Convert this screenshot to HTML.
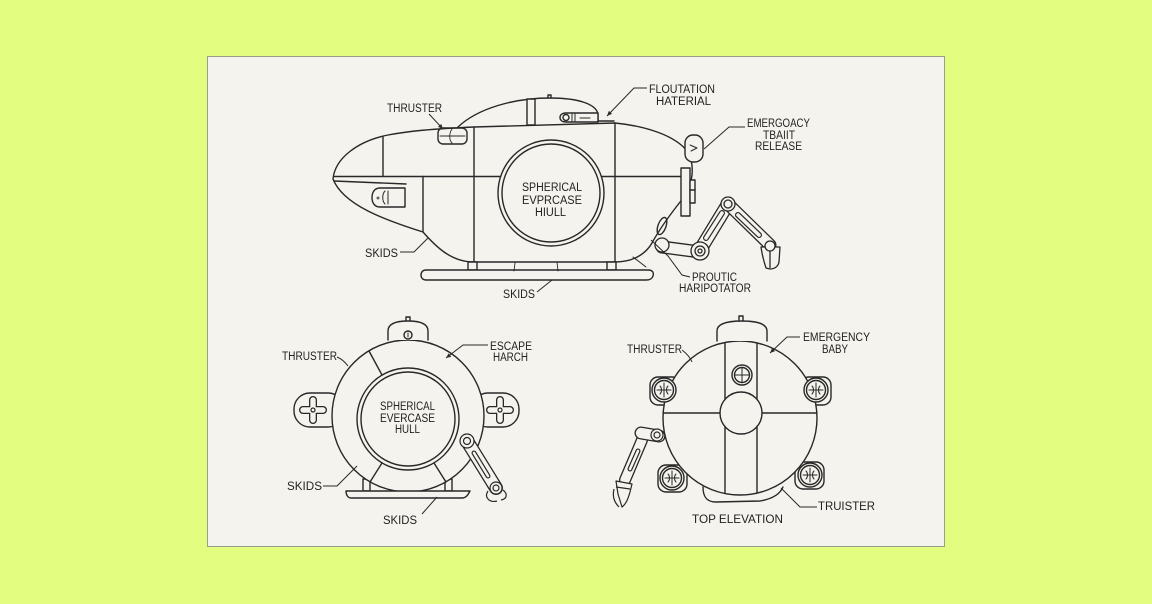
<!DOCTYPE html>
<html><head><meta charset="utf-8">
<style>
html,body{margin:0;padding:0;background:#e2fd80;}
svg{display:block}
text{font-family:"Liberation Sans",sans-serif;font-size:11.5px;fill:#222;}
</style></head><body>
<svg width="1152" height="604" viewBox="0 0 1152 604" xmlns="http://www.w3.org/2000/svg">
<defs>
<marker id="a" markerWidth="6" markerHeight="6" refX="5" refY="3" orient="auto" markerUnits="userSpaceOnUse"><path d="M0,0.8 L5,3 L0,5.2 Z" fill="#2c2c2c"/></marker>
</defs>
<rect width="1152" height="604" fill="#e2fd80"/>
<rect x="207.5" y="56.5" width="737" height="490" fill="#f4f3ee" stroke="#9c9c8c"/>

<!-- ============ SIDE VIEW ============ -->
<g fill="none" stroke="#282828" stroke-width="1.4" stroke-linejoin="round" stroke-linecap="round">
  <path d="M458,127 C478,108 515,98 550,98 C578,98 596,104 598,114 L598,122" fill="#f4f3ee"/>
  <rect x="527" y="99" width="8" height="26" fill="#f4f3ee"/>
  <path d="M548,98 L548,95 L551,95 L551,98"/>
  <path d="M333,179 C335,158 358,141 388,135 C410,131 430,129 474,127 L615,123 C645,126 675,135 688,152 C695,165 693,185 684,197 C672,212 660,228 652,243 C645,255 632,262 615,262 L474,262 C452,262 437,248 423,232 C385,220 343,205 333,179 Z" fill="#f4f3ee"/>
  <path d="M383,137 L383,176"/>
  <path d="M334,176.5 L681,176.5"/>
  <path d="M334,181 L406,184"/>
  <path d="M423,176.5 L423,232"/>
  <path d="M474,127 L474,262"/>
  <path d="M615,123 L615,262"/>
  <path d="M380,188 L405,188 L405,207 L380,207 C374,207 372,202 372,197.5 C372,193 374,188 380,188 Z"/>
  <path d="M385,191 C382,194 382,201 385,204" stroke-width="1"/>
  <path d="M388,191 L388,204" stroke-width="1"/>
  <circle cx="378" cy="198" r="1" stroke-width="0.8"/>
  <rect x="438" y="128" width="29" height="16" rx="5"/>
  <path d="M440,136 L465,136" stroke-width="0.9"/>
  <path d="M452,129 C449,133 449,140 452,143" stroke-width="0.9"/>
  <path d="M566,113 L598,113 L598,122 L566,122 C562,122 560,120 560,117.5 C560,115 562,113 566,113 Z" fill="#f4f3ee"/>
  <circle cx="566" cy="117.5" r="3"/>
  <path d="M572,114 L572,121 M575,114 L575,121 M580,118 L590,118" stroke-width="1"/>
  <path d="M598,121 L614,121"/>
  <rect x="685" y="135" width="18" height="27" rx="8" fill="#f4f3ee"/>
  <path d="M690,145 L697,148 L691,151" stroke-width="1"/>
  <rect x="681" y="168" width="9" height="48" fill="#f4f3ee"/>
  <rect x="690" y="180" width="5" height="23" fill="#f4f3ee"/>
  <path d="M690,190 L695,190"/>
  <ellipse cx="662" cy="226" rx="4" ry="9" transform="rotate(20 662 226)"/>
  <rect x="468" y="262" width="9" height="8" fill="#f4f3ee"/>
  <rect x="607" y="262" width="9" height="8" fill="#f4f3ee"/>
  <path d="M426,270 L648,270 C653,270 654,273 653,276 C652,279 650,280 646,280 L426,280 C423,280 421,278 421,275 C421,272 423,270 426,270 Z" fill="#f4f3ee"/>
  <path d="M515,263 L514,271 M557,262 L558,271" stroke-width="0.9"/>
  <path d="M633,257 L646,267" stroke-width="1"/>
</g>
<g stroke-linecap="round" fill="none">
  <path d="M662,247 L700,252" stroke="#282828" stroke-width="13"/>
  <path d="M662,247 L700,252" stroke="#f4f3ee" stroke-width="10.4"/>
  <path d="M700,250 L728,204" stroke="#282828" stroke-width="14"/>
  <path d="M700,250 L728,204" stroke="#f4f3ee" stroke-width="11.4"/>
  <path d="M706,238 L722,213" stroke="#282828" stroke-width="6"/>
  <path d="M706,238 L722,213" stroke="#f4f3ee" stroke-width="3.6"/>
  <path d="M728,204 L770,245" stroke="#282828" stroke-width="13"/>
  <path d="M728,204 L770,245" stroke="#f4f3ee" stroke-width="10.4"/>
  <path d="M738,215 L759,235" stroke="#282828" stroke-width="6"/>
  <path d="M738,215 L759,235" stroke="#f4f3ee" stroke-width="3.6"/>
</g>
<g fill="#f4f3ee" stroke="#282828" stroke-width="1.3" stroke-linejoin="round">
  <circle cx="662" cy="245" r="7"/>
  <circle cx="700" cy="251" r="9"/>
  <circle cx="700" cy="251" r="5"/>
  <circle cx="700" cy="251" r="2"/>
  <circle cx="728" cy="204" r="7"/>
  <circle cx="728" cy="204" r="4"/>
  <path d="M761,247 L780,247 L779,262 C778,267 774,269 770,269 L766,268 C764,262 762,254 761,247 Z"/>
  <path d="M770,250 L770,268" fill="none"/>
  <circle cx="770" cy="246" r="5"/>
</g>
<g fill="none" stroke="#282828" stroke-width="1">
  <path d="M429,114 L443,129" marker-end="url(#a)"/>
  <path d="M647,88 L634,88 L607,116" marker-end="url(#a)"/>
  <path d="M745,127 L729,127 L704,149"/>
  <path d="M400,252 L414,252 L428,238"/>
  <path d="M537,292 L552,280"/>
  <path d="M651,240 L668,256 L682,275 L690,277"/>
</g>
<text x="387" y="112" textLength="55" lengthAdjust="spacingAndGlyphs">THRUSTER</text>
<text x="649" y="93" textLength="66" lengthAdjust="spacingAndGlyphs">FLOUTATION</text>
<text x="656" y="105" textLength="55" lengthAdjust="spacingAndGlyphs">HATERIAL</text>
<text x="747" y="127" textLength="63" lengthAdjust="spacingAndGlyphs">EMERGOACY</text>
<text x="763" y="139" textLength="32" lengthAdjust="spacingAndGlyphs">TBAIIT</text>
<text x="755" y="150" textLength="47" lengthAdjust="spacingAndGlyphs">RELEASE</text>
<text x="365" y="257" textLength="33" lengthAdjust="spacingAndGlyphs">SKIDS</text>
<text x="503" y="298" textLength="32" lengthAdjust="spacingAndGlyphs">SKIDS</text>
<text x="692" y="281" textLength="45" lengthAdjust="spacingAndGlyphs">PROUTIC</text>
<text x="679" y="292" textLength="72" lengthAdjust="spacingAndGlyphs">HARIPOTATOR</text>
<g fill="none" stroke="#282828" stroke-width="1.4">
  <circle cx="551" cy="193" r="53" fill="#f4f3ee"/>
  <circle cx="551" cy="193" r="49"/>
</g>
<text x="522" y="191" textLength="60" lengthAdjust="spacingAndGlyphs">SPHERICAL</text>
<text x="522" y="204" textLength="60" lengthAdjust="spacingAndGlyphs">EVPRCASE</text>
<text x="535" y="216" textLength="31" lengthAdjust="spacingAndGlyphs">HIULL</text>

<!-- ============ FRONT VIEW ============ -->
<g fill="#f4f3ee" stroke="#282828" stroke-width="1.4" stroke-linejoin="round" stroke-linecap="round">
  <rect x="294" y="393" width="50" height="34" rx="16"/>
  <rect x="472" y="393" width="47" height="34" rx="16"/>
  <rect x="363" y="479" width="7" height="12"/>
  <rect x="445" y="479" width="7" height="12"/>
  <circle cx="408" cy="416" r="76"/>
  <path d="M388,340 L388,331 C388,324 396,321 408,321 C420,321 428,324 428,331 L428,340"/>
  <path d="M406,321 L406,317 L410,317 L410,321" fill="none"/>
  <circle cx="408" cy="335" r="4"/>
  <path d="M408,333 L408,337" fill="none" stroke-width="1"/>
  <circle cx="408" cy="419" r="51"/>
  <circle cx="408" cy="419" r="47"/>
  <path d="M369,351 L382,375 M382,463 L370,482 M434,463 L446,482" fill="none"/>
  <path d="M346,491 L470,491 C468,495 466,498 462,498 L351,498 C348,498 346,495 346,491 Z"/>
</g>
<g stroke-linecap="round" fill="none">
  <path d="M303,410 L323,410 M313,400 L313,420 M490,410 L510,410 M500,400 L500,420" stroke="#282828" stroke-width="8"/>
  <path d="M303,410 L323,410 M313,400 L313,420 M490,410 L510,410 M500,400 L500,420" stroke="#f4f3ee" stroke-width="5.4"/>
  <path d="M467,441 L496,488" stroke="#282828" stroke-width="14"/>
  <path d="M467,441 L496,488" stroke="#f4f3ee" stroke-width="11.4"/>
  <path d="M474,453 L488,476" stroke="#282828" stroke-width="5"/>
  <path d="M474,453 L488,476" stroke="#f4f3ee" stroke-width="2.6"/>
</g>
<g fill="#f4f3ee" stroke="#282828" stroke-width="1.2">
  <circle cx="313" cy="410" r="2"/>
  <circle cx="500" cy="410" r="2"/>
  <circle cx="467" cy="441" r="7"/>
  <circle cx="467" cy="441" r="3.5"/>
  <circle cx="496" cy="488" r="6"/>
  <circle cx="496" cy="488" r="3"/>
  <path d="M488,491 C484,497 489,503 497,501" fill="none"/>
  <path d="M503,490 C508,494 507,499 501,500" fill="none"/>
</g>
<g fill="none" stroke="#282828" stroke-width="1">
  <path d="M337,357 C342,359 345,362 348,366"/>
  <path d="M488,345 L463,345 L446,358" marker-end="url(#a)"/>
  <path d="M323,486 L337,486 L357,466"/>
  <path d="M422,514 L437,497"/>
</g>
<text x="282" y="360" textLength="55" lengthAdjust="spacingAndGlyphs">THRUSTER</text>
<text x="490" y="350" textLength="42" lengthAdjust="spacingAndGlyphs">ESCAPE</text>
<text x="493" y="361" textLength="35" lengthAdjust="spacingAndGlyphs">HARCH</text>
<text x="380" y="410" textLength="55" lengthAdjust="spacingAndGlyphs">SPHERICAL</text>
<text x="380" y="422" textLength="55" lengthAdjust="spacingAndGlyphs">EVERCASE</text>
<text x="395" y="433" textLength="25" lengthAdjust="spacingAndGlyphs">HULL</text>
<text x="287" y="490" textLength="35" lengthAdjust="spacingAndGlyphs">SKIDS</text>
<text x="383" y="524" textLength="34" lengthAdjust="spacingAndGlyphs">SKIDS</text>

<!-- ============ TOP VIEW ============ -->
<g fill="#f4f3ee" stroke="#282828" stroke-width="1.4" stroke-linejoin="round" stroke-linecap="round">
  <rect x="650" y="377" width="30" height="28" rx="8"/>
  <rect x="801" y="377" width="30" height="28" rx="8"/>
  <rect x="658" y="465" width="29" height="27" rx="8"/>
  <rect x="795" y="462" width="29" height="27" rx="8"/>
  <path d="M703,487 C703,496 706,502 716,502 L760,501 C772,499 780,494 783,487"/>
  <circle cx="740" cy="418" r="77"/>
  <path d="M725,343 L725,493 M757,343 L757,493 M663,413 L817,413" fill="none"/>
  <circle cx="741" cy="413" r="21"/>
  <circle cx="742" cy="375" r="10"/>
  <circle cx="742" cy="375" r="7.5"/>
  <path d="M742,368 L742,382 M735,375 L749,375" fill="none" stroke-width="1"/>
  <path d="M717,341 L717,331 C717,324 727,321 742,321 C757,321 767,324 767,331 L767,341"/>
  <path d="M739,321 L739,316 L743,316 L743,321" fill="none"/>
  <circle cx="664" cy="390" r="12"/><circle cx="664" cy="390" r="9.5"/>
  <circle cx="816" cy="390" r="12"/><circle cx="816" cy="390" r="9.5"/>
  <circle cx="672" cy="478" r="12"/><circle cx="672" cy="478" r="9.5"/>
  <circle cx="810" cy="475" r="12"/><circle cx="810" cy="475" r="9.5"/>
  <g fill="none" stroke-width="1">
    <path d="M657,390 L671,390 M664,383 L664,397 M660,386 C662,388 662,392 660,394 M668,386 C666,388 666,392 668,394"/>
    <path d="M809,390 L823,390 M816,383 L816,397 M812,386 C814,388 814,392 812,394 M820,386 C818,388 818,392 820,394"/>
    <path d="M665,478 L679,478 M672,471 L672,485 M668,474 C670,476 670,480 668,482 M676,474 C674,476 674,480 676,482"/>
    <path d="M803,475 L817,475 M810,468 L810,482 M806,471 C808,473 808,477 806,479 M814,471 C812,473 812,477 814,479"/>
  </g>
</g>
<g stroke-linecap="round" fill="none">
  <path d="M642,440 L625,480" stroke="#282828" stroke-width="12"/>
  <path d="M642,440 L625,480" stroke="#f4f3ee" stroke-width="9.4"/>
  <path d="M638,451 L630,469" stroke="#282828" stroke-width="5"/>
  <path d="M638,451 L630,469" stroke="#f4f3ee" stroke-width="2.6"/>
  <path d="M641,433 L659,436" stroke="#282828" stroke-width="13"/>
  <path d="M641,433 L659,436" stroke="#f4f3ee" stroke-width="10.4"/>
</g>
<g fill="#f4f3ee" stroke="#282828" stroke-width="1.2" stroke-linejoin="round">
  <circle cx="657" cy="435" r="6"/>
  <circle cx="657" cy="435" r="3"/>
  <path d="M616,481 L632,484 L630,492 C628,499 626,504 622,507 L618,494 Z"/>
  <path d="M614,489 C612,497 615,503 619,507" fill="none"/>
  <path d="M616,487 L630,489" fill="none"/>
</g>
<g fill="none" stroke="#282828" stroke-width="1">
  <path d="M682,350 C686,353 690,357 692,362"/>
  <path d="M800,337 L787,337 L770,353" marker-end="url(#a)"/>
  <path d="M817,507 L800,507 L781,488"/>
</g>
<text x="627" y="353" textLength="55" lengthAdjust="spacingAndGlyphs">THRUSTER</text>
<text x="803" y="341" textLength="67" lengthAdjust="spacingAndGlyphs">EMERGENCY</text>
<text x="822" y="353" textLength="26" lengthAdjust="spacingAndGlyphs">BABY</text>
<text x="818" y="510" textLength="57" lengthAdjust="spacingAndGlyphs">TRUISTER</text>
<text x="692" y="523" textLength="91" lengthAdjust="spacingAndGlyphs">TOP ELEVATION</text>
</svg>
</body></html>
